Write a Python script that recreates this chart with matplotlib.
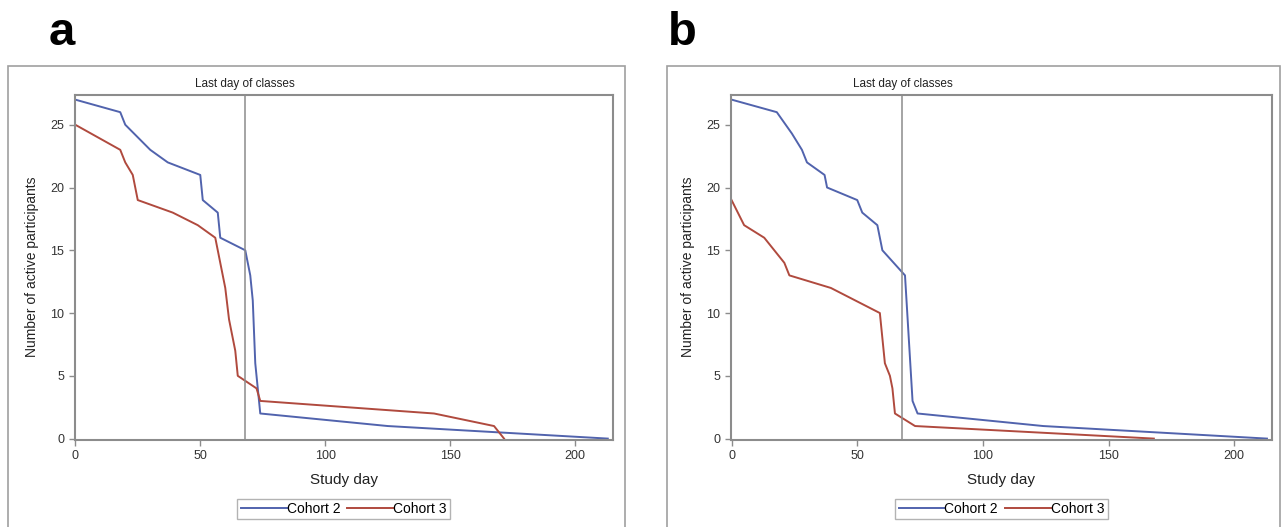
import matplotlib
matplotlib.use("Agg")
import matplotlib.pyplot as plt
from matplotlib.patches import Rectangle
import matplotlib.transforms as mtransforms

plt.rcParams['font.family'] = ['Liberation Sans', 'DejaVu Sans']

# panel a
a_days_c2 = [0, 18, 20, 30, 37, 50, 51, 57, 58, 68, 70, 71, 72, 74, 125, 213]
a_part_c2 = [27, 26, 25, 23, 22, 21, 19, 18, 16, 15, 13, 11, 6, 2, 1, 0]
a_days_c3 = [0, 18, 20, 23, 25, 39, 49, 56, 57, 60, 61.5, 64, 65, 72.5, 74, 143.5, 167.5, 171.5]
a_part_c3 = [25, 23, 22, 21, 19, 18, 17, 16, 15, 12, 9.5, 7, 5, 4, 3, 2, 1, 0]

# panel b
b_days_c2 = [0, 18, 24, 28, 30, 37, 38, 50, 52, 58, 60, 69, 72, 74, 124, 213]
b_part_c2 = [27, 26, 24.3, 23, 22, 21, 20, 19, 18, 17, 15, 13, 3, 2, 1, 0]
b_days_c3 = [0, 5, 13, 21, 23, 39.5, 59, 61, 63, 64, 65, 73, 168]
b_part_c3 = [19, 17, 16, 14, 13, 12, 10, 6, 5, 4, 2, 1, 0]

last_class_day = 68
series_names = ['Cohort 2', 'Cohort 3']
x_ticks = [0, 50, 100, 150, 200]
y_ticks = [0, 5, 10, 15, 20, 25]

blue = '#5163ad'
red = '#b04a3e'
grey = '#8c8c8c'

W, H = 1282, 527
fig = plt.figure(figsize=(W / 100, H / 100), dpi=100)


def draw_panel(left_px, right_px, frame_l, frame_r, letter, letter_x, d2, p2, d3, p3):
    # outer frame of the panel
    fig.patches.append(Rectangle((frame_l / W, -0.05), (frame_r - frame_l) / W, 1 - 65.5 / H + 0.05,
                                 transform=fig.transFigure, fill=False, edgecolor='#a0a0a0', lw=1.2))
    fig.text(letter_x / W, 1 - 45 / H, letter, fontsize=34, fontweight='bold', va='baseline')

    ax = fig.add_axes([left_px / W, 1 - 439.6 / H, (right_px - left_px) / W, (439.6 - 94.6) / H])
    l1, = ax.plot(d2, p2, color=blue, lw=1.4)
    l2, = ax.plot(d3, p3, color=red, lw=1.4)
    ax.axvline(last_class_day, color=grey, lw=1.1)
    trans = mtransforms.blended_transform_factory(ax.transData, ax.transAxes)
    ax.text(last_class_day, 1.012, 'Last day of classes', transform=trans, ha='center', va='bottom',
            fontsize=8.5, color='#222222')

    ax.set_xlim(-0.3, 215)
    ax.set_ylim(-0.08, 27.4)
    ax.set_xticks(x_ticks)
    ax.set_yticks(y_ticks)
    for s in ax.spines.values():
        s.set_color(grey)
        s.set_linewidth(1.5)
    ax.tick_params(colors=grey, labelcolor='#333333', labelsize=9, length=4, width=1)
    ax.set_xlabel('Study day', fontsize=11, color='#222222', labelpad=8)
    ax.set_ylabel('Number of active participants', fontsize=10, color='#222222', labelpad=8)

    ax.legend([l1, l2], series_names, loc='center', bbox_to_anchor=(0.5, -(509 - 439.6) / 345), ncol=2,
              frameon=True, fancybox=False, edgecolor='#a0a0a0', fontsize=10, handlelength=3.3,
              handletextpad=0.0, columnspacing=0.5, borderpad=0.25, borderaxespad=0)
    return ax


draw_panel(74.5, 612.8, 8.3, 624.5, 'a', 49, a_days_c2, a_part_c2, a_days_c3, a_part_c3)
draw_panel(730.8, 1272, 667, 1280, 'b', 668, b_days_c2, b_part_c2, b_days_c3, b_part_c3)

fig.savefig('out.png', dpi=100)
